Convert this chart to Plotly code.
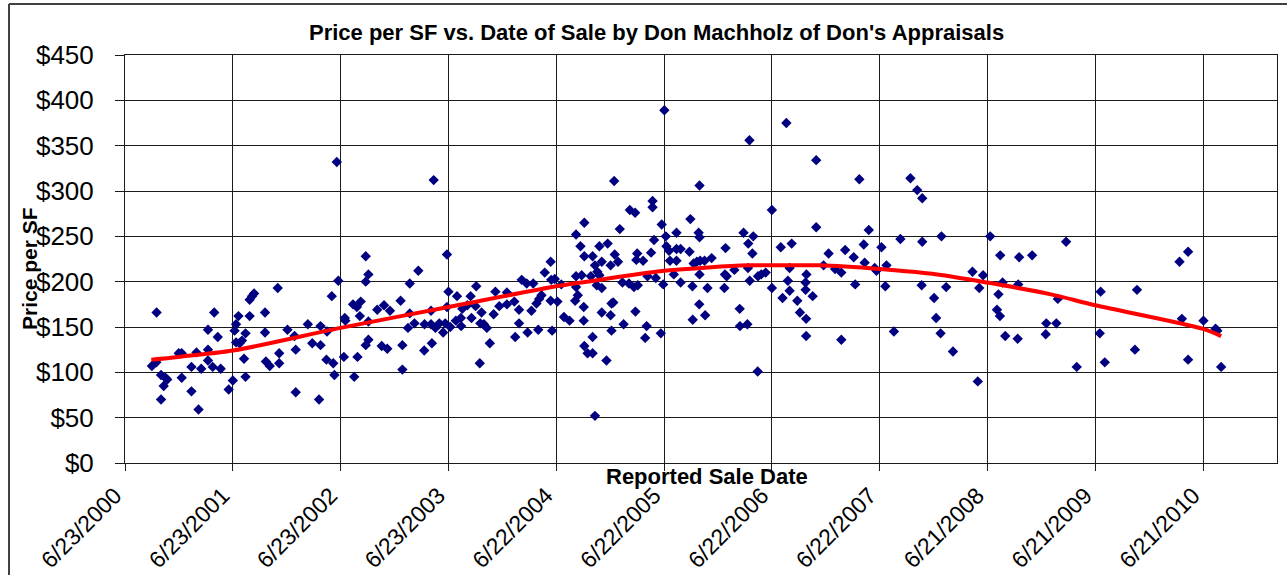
import datetime as dt
import plotly.graph_objects as go

# ---------------- data ----------------
# Sale dates stored as Excel serial day numbers, price per square foot in $
sale_serial = [
    36791, 36806, 36807, 36822, 36831, 36843, 36837, 36822, 36882, 36892,
    36892, 36925, 36925, 36942, 36949, 36958, 36981, 36981, 36981, 36997,
    37002, 37014, 37024, 37051, 37065, 37071, 37076, 37084, 37076, 37088,
    37096, 37108, 37103, 37108, 37122, 37122, 37130, 37137, 37174, 37174,
    37177, 37190, 37217, 37222, 37222, 37250, 37274, 37278, 37278, 37319,
    37334, 37362, 37362, 37357, 37382, 37384, 37400, 37405, 37409, 37417,
    37422, 37444, 37446, 37441, 37472, 37485, 37495, 37487, 37476, 37498,
    # 2002-2004
    37515, 37524, 37515, 37524, 37524, 37515, 37554, 37577, 37597, 37569,
    37588, 37633, 37639, 37639, 37664, 37664, 37658, 37680, 37693, 37714,
    37713, 37736, 37736, 37739, 37751, 37764, 37777, 37784, 37790, 37790,
    37795, 37801, 37824, 37820, 37837, 37838, 37842, 37859, 37870, 37873,
    37889, 37887, 37907, 37903, 37915, 37925, 37901, 37935, 37948, 37954,
    37967, 37993, 37993, 38018, 38021, 38034, 38034, 38043, 38060, 38082,
    38063, 38076, 38093, 38099, 38102, 38110, 38121, 38141, 38143, 38155,
    38141, 38146, 38164, 38177, 38186, 38205, 38224, 38227, 38242, 38255,
    38255, 38227, 38246, 38227, 38233, 38253, 38253, 38255, 38266, 37745,
    # 2004-2006
    38283, 38306, 38334, 38314, 38291, 38299, 38306, 38297, 38314, 38277,
    38344, 38358, 38369, 38356, 38375, 38384, 38409, 38427, 38406, 38423,
    38436, 38434, 38431, 38454, 38481, 38486, 38486, 38491, 38517, 38469,
    38497, 38522, 38531, 38533, 38542, 38545, 38567, 38567, 38581, 38567,
    38558, 38581, 38611, 38614, 38625, 38642, 38645, 38636, 38647, 38662,
    38686, 38645, 38621, 38672, 38645, 38644, 38664, 38622, 38526, 38731,
    38737, 38729, 38733, 38763, 38794, 38827, 38810, 38824, 38809, 38815,
    38843, 38854, 38869, 38781, 38782, 38807, 38842, 38814, 38890, 38890,
    38920, 38957, 38950, 38944, 38950, 38926, 38976, 38985, 39007, 39004,
    39004, 39028, 39006, 39006, 38939, 39040, 39040, 38283, 38330, 38283,
    38314, 38344, 38353, 38347, 38347, 38388, 38428, 38466, 38461, 38514,
    38291,
    # 2006-2008
    39065, 39082, 39104, 39125, 39138, 39167, 39172, 39186, 39201, 39204,
    39218, 39238, 39244, 39261, 39278, 39274, 39125, 39303, 39325, 39359,
    39382, 39399, 39399, 39397, 39439, 39446, 39461, 39464, 39480, 39503,
    39569, 39592, 39605, 39587, 39629, 39663, 39671, 39657, 39652, 39662,
    39680, 39722, 39724, 39727, 39771, 39819, 39817,
    # 2009-2010
    39858, 39853, 39886, 39922, 40003, 40000, 40017, 40126, 40119, 40270,
    40299, 40278, 40299, 40351, 40392, 40398, 40411,
]

price_per_sf = [
    107, 111, 166, 97, 85, 92, 94, 70, 121, 121,
    94, 106, 79, 122, 59, 104, 147, 125, 113, 106,
    166, 139, 104, 81, 91, 146, 153, 162, 133, 132,
    135, 143, 115, 95, 162, 180, 184, 187, 166, 144,
    112, 107, 193, 121, 110, 147, 140, 125, 78, 153,
    132, 151, 130, 70, 114, 145, 184, 110, 97, 332,
    201, 160, 157, 117, 175, 172, 162, 117, 95, 178,
    # 2002-2004
    228, 208, 200, 156, 136, 130, 169, 174, 168, 129,
    126, 179, 130, 103, 198, 165, 149, 154, 212, 153,
    124, 168, 153, 132, 149, 154, 144, 154, 230, 172,
    189, 150, 184, 157, 160, 151, 170, 174, 184, 160,
    195, 173, 166, 154, 153, 149, 110, 132, 164, 189,
    173, 188, 175, 178, 139, 169, 154, 202, 198, 198,
    144, 168, 176, 147, 181, 185, 210, 222, 202, 203,
    179, 146, 178, 197, 161, 157, 179, 252, 239, 265,
    228, 206, 207, 194, 185, 172, 157, 129, 121, 312,
    # 2004-2006
    228, 239, 242, 222, 218, 211, 207, 196, 193, 206,
    218, 230, 222, 311, 258, 199, 279, 276, 198, 194,
    196, 231, 224, 223, 232, 289, 282, 246, 263, 206,
    204, 197, 250, 239, 234, 223, 254, 236, 236, 223,
    208, 199, 233, 269, 220, 254, 249, 222, 223, 223,
    226, 208, 195, 193, 306, 175, 163, 158, 389, 208,
    206, 193, 237, 213, 254, 250, 242, 231, 215, 201,
    206, 208, 210, 170, 151, 153, 101, 356, 279, 193,
    238, 242, 215, 201, 190, 182, 179, 166, 208, 199,
    191, 184, 159, 140, 375, 334, 260, 139, 113, 121,
    166, 163, 177, 176, 146, 153, 167, 151, 138, 143,
    52,
    # 2006-2008
    218, 231, 214, 210, 235, 227, 197, 313, 241, 221,
    257, 215, 212, 238, 218, 195, 136, 145, 247, 314,
    301, 292, 244, 196, 182, 160, 143, 250, 194, 123,
    211, 193, 207, 90, 250, 229, 199, 186, 169, 162,
    140, 137, 197, 227, 229, 154, 142,
    # 2009-2010
    181, 154, 244, 106, 189, 143, 111, 191, 125, 222,
    233, 159, 114, 157, 148, 146, 106,
]

# Polynomial trendline
trend_serial = [36789, 36880, 37065, 37430, 37795, 38160, 38263, 38525, 38809,
                38890, 39048, 39255, 39450, 39620, 39835, 39985, 40350, 40411]
trend_price = [114, 117, 124, 149, 172, 195, 200, 212, 218,
               218, 218, 214, 208, 199, 186, 174, 148, 140]

x_tick_labels = ["6/23/2000", "6/23/2001", "6/23/2002", "6/23/2003", "6/22/2004",
                 "6/22/2005", "6/22/2006", "6/22/2007", "6/21/2008", "6/21/2009",
                 "6/21/2010"]
y_tick_values = [0, 50, 100, 150, 200, 250, 300, 350, 400, 450]
y_tick_labels = ["$" + str(v) for v in y_tick_values]

x_min_serial, x_max_serial = 36700, 40600

# ---------------- build figure ----------------
EPOCH = dt.datetime(1899, 12, 30)


def serial_to_date(s):
    return EPOCH + dt.timedelta(days=s)


sale_dates = [serial_to_date(s) for s in sale_serial]
trend_dates = [serial_to_date(s) for s in trend_serial]
tick_dates = [dt.datetime.strptime(t, "%m/%d/%Y") for t in x_tick_labels]

FONT = "Liberation Sans, Arial, sans-serif"

fig = go.Figure()
fig.add_trace(go.Scatter(
    x=sale_dates, y=price_per_sf, mode="markers",
    marker=dict(symbol="diamond", size=8, color="#000080",
                line=dict(width=0)),
    showlegend=False, hoverinfo="x+y"))
fig.add_trace(go.Scatter(
    x=trend_dates, y=trend_price, mode="lines",
    line=dict(color="#FF0000", width=4, shape="spline", smoothing=0.8),
    showlegend=False, hoverinfo="skip"))

fig.update_layout(
    template="none",
    width=1287, height=575, autosize=False,
    margin=dict(l=125, r=10, t=55, b=112, pad=0),
    paper_bgcolor="white", plot_bgcolor="white",
    font=dict(family=FONT, color="black"),
    xaxis=dict(
        type="date", automargin=False,
        range=[serial_to_date(x_min_serial), serial_to_date(x_max_serial)],
        tickmode="array", tickvals=tick_dates, ticktext=x_tick_labels,
        tickangle=-45, tickfont=dict(size=23, family=FONT, color="black"),
        ticklabelstandoff=2, ticklabelshift=-10,
        showgrid=True, gridcolor="#1a1a1a", gridwidth=1,
        ticks="outside", ticklen=7, tickcolor="#1a1a1a", tickwidth=1,
        showline=True, linecolor="#1a1a1a", linewidth=1, mirror=True,
        zeroline=False, fixedrange=True,
    ),
    yaxis=dict(
        automargin=False,
        range=[0, 450], tickmode="array", tickvals=y_tick_values,
        ticktext=y_tick_labels,
        tickfont=dict(size=26, family=FONT, color="black"),
        ticklabelstandoff=16,
        showgrid=True, gridcolor="#1a1a1a", gridwidth=1,
        ticks="outside", ticklen=9, tickcolor="#1a1a1a", tickwidth=1,
        showline=True, linecolor="#1a1a1a", linewidth=1, mirror=True,
        zeroline=False, fixedrange=True,
    ),
    annotations=[
        dict(text="<b>Price per SF vs. Date of Sale by Don Machholz of Don's Appraisals</b>",
             xref="paper", yref="paper", x=0.461, y=1.054,
             xanchor="center", yanchor="middle", showarrow=False,
             font=dict(size=22, family=FONT, color="black")),
        dict(text="<b>Reported Sale Date</b>",
             xref="paper", yref="paper", x=0.505, y=-0.034,
             xanchor="center", yanchor="middle", showarrow=False,
             font=dict(size=22, family=FONT, color="black")),
        dict(text="<b>Price per SF</b>",
             xref="paper", yref="paper", x=-0.0825, y=0.478,
             xanchor="center", yanchor="middle", showarrow=False,
             textangle=-90,
             font=dict(size=21, family=FONT, color="black")),
    ],
    shapes=[
        dict(type="line", xref="paper", yref="paper",
             x0=-0.1007, x1=1.05, y0=1.125, y1=1.125,
             line=dict(color="#404040", width=2)),
        dict(type="line", xref="paper", yref="paper",
             x0=-0.1007, x1=-0.1007, y0=1.125, y1=-0.35,
             line=dict(color="#404040", width=2)),
    ],
)

fig.write_html("out.html", config={"displayModeBar": False},
               post_script="document.body.style.margin='0px';document.body.style.overflow='hidden';")
